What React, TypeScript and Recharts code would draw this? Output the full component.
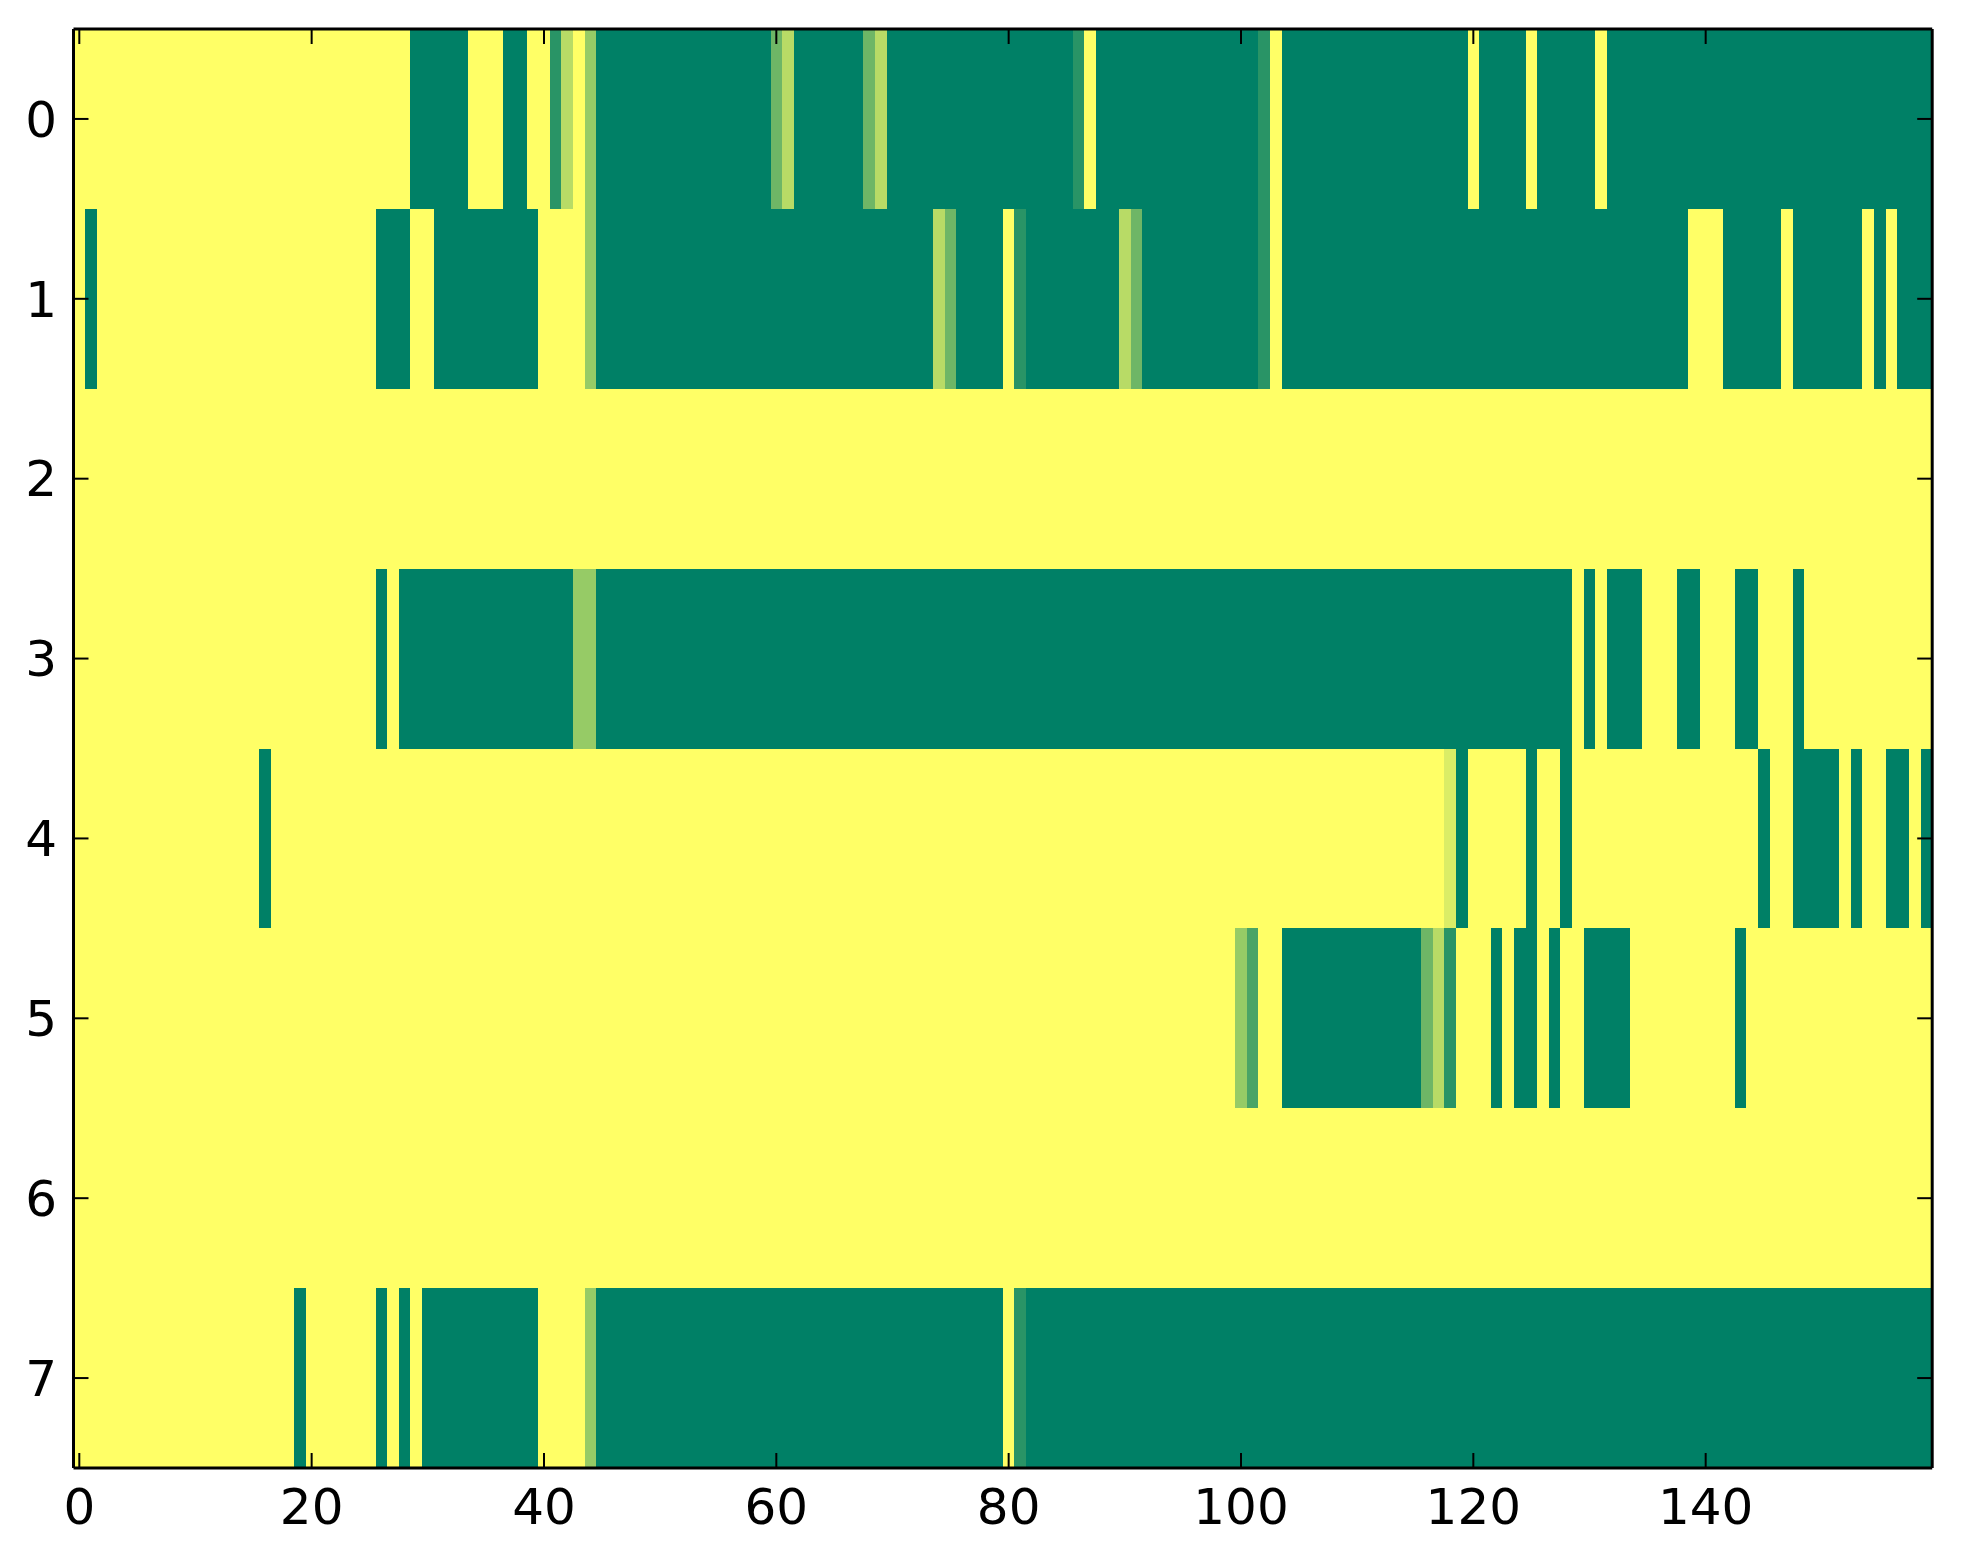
import React from "react";
import { ScatterChart, Scatter, XAxis, YAxis } from "recharts";

// one array per image row, 160 columns each (1 = yellow, 0 = green)
const ROW_0 = [
  1, 1, 1, 1, 1, 1, 1, 1, 1, 1, 1, 1, 1, 1, 1, 1, 1, 1, 1, 1,
  1, 1, 1, 1, 1, 1, 1, 1, 1, 0, 0, 0, 0, 0, 1, 1, 1, 0, 0, 1,
  1, 0.16, 0.72, 1, 0.59, 0, 0, 0, 0, 0, 0, 0, 0, 0, 0, 0, 0, 0, 0, 0,
  0.43, 0.72, 0, 0, 0, 0, 0, 0, 0.43, 0.72, 0, 0, 0, 0, 0, 0, 0, 0, 0, 0,
  0, 0, 0, 0, 0, 0, 0.16, 1, 0, 0, 0, 0, 0, 0, 0, 0, 0, 0, 0, 0,
  0, 0, 0.16, 1, 0, 0, 0, 0, 0, 0, 0, 0, 0, 0, 0, 0, 0, 0, 0, 0,
  1, 0, 0, 0, 0, 1, 0, 0, 0, 0, 0, 1, 0, 0, 0, 0, 0, 0, 0, 0,
  0, 0, 0, 0, 0, 0, 0, 0, 0, 0, 0, 0, 0, 0, 0, 0, 0, 0, 0, 0,
];
const ROW_1 = [
  1, 0, 1, 1, 1, 1, 1, 1, 1, 1, 1, 1, 1, 1, 1, 1, 1, 1, 1, 1,
  1, 1, 1, 1, 1, 1, 0, 0, 0, 1, 1, 0, 0, 0, 0, 0, 0, 0, 0, 0,
  1, 1, 1, 1, 0.59, 0, 0, 0, 0, 0, 0, 0, 0, 0, 0, 0, 0, 0, 0, 0,
  0, 0, 0, 0, 0, 0, 0, 0, 0, 0, 0, 0, 0, 0, 0.72, 0.43, 0, 0, 0, 0,
  1, 0.16, 0, 0, 0, 0, 0, 0, 0, 0, 0.72, 0.43, 0, 0, 0, 0, 0, 0, 0, 0,
  0, 0, 0.16, 1, 0, 0, 0, 0, 0, 0, 0, 0, 0, 0, 0, 0, 0, 0, 0, 0,
  0, 0, 0, 0, 0, 0, 0, 0, 0, 0, 0, 0, 0, 0, 0, 0, 0, 0, 0, 1,
  1, 1, 0, 0, 0, 0, 0, 1, 0, 0, 0, 0, 0, 0, 1, 0, 1, 0, 0, 0,
];
const ROW_2 = [
  1, 1, 1, 1, 1, 1, 1, 1, 1, 1, 1, 1, 1, 1, 1, 1, 1, 1, 1, 1,
  1, 1, 1, 1, 1, 1, 1, 1, 1, 1, 1, 1, 1, 1, 1, 1, 1, 1, 1, 1,
  1, 1, 1, 1, 1, 1, 1, 1, 1, 1, 1, 1, 1, 1, 1, 1, 1, 1, 1, 1,
  1, 1, 1, 1, 1, 1, 1, 1, 1, 1, 1, 1, 1, 1, 1, 1, 1, 1, 1, 1,
  1, 1, 1, 1, 1, 1, 1, 1, 1, 1, 1, 1, 1, 1, 1, 1, 1, 1, 1, 1,
  1, 1, 1, 1, 1, 1, 1, 1, 1, 1, 1, 1, 1, 1, 1, 1, 1, 1, 1, 1,
  1, 1, 1, 1, 1, 1, 1, 1, 1, 1, 1, 1, 1, 1, 1, 1, 1, 1, 1, 1,
  1, 1, 1, 1, 1, 1, 1, 1, 1, 1, 1, 1, 1, 1, 1, 1, 1, 1, 1, 1,
];
const ROW_3 = [
  1, 1, 1, 1, 1, 1, 1, 1, 1, 1, 1, 1, 1, 1, 1, 1, 1, 1, 1, 1,
  1, 1, 1, 1, 1, 1, 0, 1, 0, 0, 0, 0, 0, 0, 0, 0, 0, 0, 0, 0,
  0, 0, 0, 0.59, 0.59, 0, 0, 0, 0, 0, 0, 0, 0, 0, 0, 0, 0, 0, 0, 0,
  0, 0, 0, 0, 0, 0, 0, 0, 0, 0, 0, 0, 0, 0, 0, 0, 0, 0, 0, 0,
  0, 0, 0, 0, 0, 0, 0, 0, 0, 0, 0, 0, 0, 0, 0, 0, 0, 0, 0, 0,
  0, 0, 0, 0, 0, 0, 0, 0, 0, 0, 0, 0, 0, 0, 0, 0, 0, 0, 0, 0,
  0, 0, 0, 0, 0, 0, 0, 0, 0, 1, 0, 1, 0, 0, 0, 1, 1, 1, 0, 0,
  1, 1, 1, 0, 0, 1, 1, 1, 0, 1, 1, 1, 1, 1, 1, 1, 1, 1, 1, 1,
];
const ROW_4 = [
  1, 1, 1, 1, 1, 1, 1, 1, 1, 1, 1, 1, 1, 1, 1, 1, 0, 1, 1, 1,
  1, 1, 1, 1, 1, 1, 1, 1, 1, 1, 1, 1, 1, 1, 1, 1, 1, 1, 1, 1,
  1, 1, 1, 1, 1, 1, 1, 1, 1, 1, 1, 1, 1, 1, 1, 1, 1, 1, 1, 1,
  1, 1, 1, 1, 1, 1, 1, 1, 1, 1, 1, 1, 1, 1, 1, 1, 1, 1, 1, 1,
  1, 1, 1, 1, 1, 1, 1, 1, 1, 1, 1, 1, 1, 1, 1, 1, 1, 1, 1, 1,
  1, 1, 1, 1, 1, 1, 1, 1, 1, 1, 1, 1, 1, 1, 1, 1, 1, 1, 0.86, 0,
  1, 1, 1, 1, 1, 0, 1, 1, 0, 1, 1, 1, 1, 1, 1, 1, 1, 1, 1, 1,
  1, 1, 1, 1, 1, 0, 1, 1, 0, 0, 0, 0, 1, 0, 1, 1, 0, 0, 1, 0,
];
const ROW_5 = [
  1, 1, 1, 1, 1, 1, 1, 1, 1, 1, 1, 1, 1, 1, 1, 1, 1, 1, 1, 1,
  1, 1, 1, 1, 1, 1, 1, 1, 1, 1, 1, 1, 1, 1, 1, 1, 1, 1, 1, 1,
  1, 1, 1, 1, 1, 1, 1, 1, 1, 1, 1, 1, 1, 1, 1, 1, 1, 1, 1, 1,
  1, 1, 1, 1, 1, 1, 1, 1, 1, 1, 1, 1, 1, 1, 1, 1, 1, 1, 1, 1,
  1, 1, 1, 1, 1, 1, 1, 1, 1, 1, 1, 1, 1, 1, 1, 1, 1, 1, 1, 1,
  0.59, 0.29, 1, 1, 0, 0, 0, 0, 0, 0, 0, 0, 0, 0, 0, 0, 0.43, 0.72, 0.16, 1,
  1, 1, 0, 1, 0, 0, 1, 0, 1, 1, 0, 0, 0, 0, 1, 1, 1, 1, 1, 1,
  1, 1, 1, 0, 1, 1, 1, 1, 1, 1, 1, 1, 1, 1, 1, 1, 1, 1, 1, 1,
];
const ROW_6 = [
  1, 1, 1, 1, 1, 1, 1, 1, 1, 1, 1, 1, 1, 1, 1, 1, 1, 1, 1, 1,
  1, 1, 1, 1, 1, 1, 1, 1, 1, 1, 1, 1, 1, 1, 1, 1, 1, 1, 1, 1,
  1, 1, 1, 1, 1, 1, 1, 1, 1, 1, 1, 1, 1, 1, 1, 1, 1, 1, 1, 1,
  1, 1, 1, 1, 1, 1, 1, 1, 1, 1, 1, 1, 1, 1, 1, 1, 1, 1, 1, 1,
  1, 1, 1, 1, 1, 1, 1, 1, 1, 1, 1, 1, 1, 1, 1, 1, 1, 1, 1, 1,
  1, 1, 1, 1, 1, 1, 1, 1, 1, 1, 1, 1, 1, 1, 1, 1, 1, 1, 1, 1,
  1, 1, 1, 1, 1, 1, 1, 1, 1, 1, 1, 1, 1, 1, 1, 1, 1, 1, 1, 1,
  1, 1, 1, 1, 1, 1, 1, 1, 1, 1, 1, 1, 1, 1, 1, 1, 1, 1, 1, 1,
];
const ROW_7 = [
  1, 1, 1, 1, 1, 1, 1, 1, 1, 1, 1, 1, 1, 1, 1, 1, 1, 1, 1, 0,
  1, 1, 1, 1, 1, 1, 0, 1, 0, 1, 0, 0, 0, 0, 0, 0, 0, 0, 0, 0,
  1, 1, 1, 1, 0.59, 0, 0, 0, 0, 0, 0, 0, 0, 0, 0, 0, 0, 0, 0, 0,
  0, 0, 0, 0, 0, 0, 0, 0, 0, 0, 0, 0, 0, 0, 0, 0, 0, 0, 0, 0,
  1, 0.16, 0, 0, 0, 0, 0, 0, 0, 0, 0, 0, 0, 0, 0, 0, 0, 0, 0, 0,
  0, 0, 0, 0, 0, 0, 0, 0, 0, 0, 0, 0, 0, 0, 0, 0, 0, 0, 0, 0,
  0, 0, 0, 0, 0, 0, 0, 0, 0, 0, 0, 0, 0, 0, 0, 0, 0, 0, 0, 0,
  0, 0, 0, 0, 0, 0, 0, 0, 0, 0, 0, 0, 0, 0, 0, 0, 0, 0, 0, 0,
];

const ROWS = [ROW_0, ROW_1, ROW_2, ROW_3, ROW_4, ROW_5, ROW_6, ROW_7];

const X_TICKS = [0, 20, 40, 60, 80, 100, 120, 140];
const Y_TICKS = [0, 1, 2, 3, 4, 5, 6, 7];
const X_DOMAIN = [-0.5, 159.5];
const Y_DOMAIN = [-0.5, 7.5];

const CHART_W = 1950;
const CHART_H = 1540;
const MARGIN = { top: 21, right: 25.8, bottom: 0, left: 0 };
const Y_AXIS_W = 65.5;
const X_AXIS_H = 80;
const PLOT_W = CHART_W - MARGIN.left - MARGIN.right - Y_AXIS_W;
const PLOT_H = CHART_H - MARGIN.top - MARGIN.bottom - X_AXIS_H;
const CELL_W = PLOT_W / ROW_0.length;
const CELL_H = PLOT_H / ROWS.length;

// matplotlib "summer" colormap
function summer(v: number) {
  const r = Math.round(255 * v);
  const g = Math.round(255 * (0.5 + 0.5 * v));
  return `rgb(${r},${g},102)`;
}

const cells = ROWS.flatMap((row, r) =>
  row.map((value, c) => ({ col: c, row: r, value }))
);

const HeatCell = (props: any) => {
  const { cx, cy, payload } = props;
  if (cx == null || cy == null) return null;
  return (
    <rect
      x={cx - CELL_W / 2}
      y={cy - CELL_H / 2}
      width={CELL_W + 0.6}
      height={CELL_H + 0.6}
      fill={summer(payload.value)}
      shapeRendering="crispEdges"
    />
  );
};

// used by the axes layer so that its axes get the same data, but draws nothing
const NoShape = () => <g />;

const tickFont = { fill: "#000", fontSize: 50, fontFamily: "DejaVu Sans" };
const noLabel = { fill: "none", fontSize: 1 };
const frame = { stroke: "#000", strokeWidth: 3 };
const tickStroke = { stroke: "#000", strokeWidth: 2 };
const blank = () => "";

// bottom layer: the cells, with invisible axes that only reserve the same space
const HeatLayer = () => (
  <ScatterChart width={CHART_W} height={CHART_H} margin={MARGIN}>
    <XAxis
      dataKey="col"
      type="number"
      domain={X_DOMAIN}
      allowDataOverflow
      ticks={X_TICKS}
      height={X_AXIS_H}
      axisLine={false}
      tickLine={false}
      tick={false}
    />
    <YAxis
      dataKey="row"
      type="number"
      domain={Y_DOMAIN}
      allowDataOverflow
      reversed
      ticks={Y_TICKS}
      width={Y_AXIS_W}
      axisLine={false}
      tickLine={false}
      tick={false}
    />
    <Scatter data={cells} shape={HeatCell} isAnimationActive={false} />
  </ScatterChart>
);

// top layer: frame, inward ticks on all four sides, tick labels
const AxesLayer = () => (
  <ScatterChart width={CHART_W} height={CHART_H} margin={MARGIN}>
    <XAxis
      dataKey="col"
      type="number"
      domain={X_DOMAIN}
      allowDataOverflow
      ticks={X_TICKS}
      interval={0}
      height={X_AXIS_H}
      tickSize={-15}
      tickMargin={35}
      axisLine={frame}
      tickLine={tickStroke}
      tick={tickFont}
    />
    <YAxis
      dataKey="row"
      type="number"
      domain={Y_DOMAIN}
      allowDataOverflow
      reversed
      ticks={Y_TICKS}
      interval={0}
      width={Y_AXIS_W}
      tickSize={-15}
      tickMargin={31.5}
      axisLine={frame}
      tickLine={tickStroke}
      tick={tickFont}
    />
    <XAxis
      xAxisId="top"
      dataKey="col"
      orientation="top"
      type="number"
      domain={X_DOMAIN}
      allowDataOverflow
      ticks={X_TICKS}
      interval={0}
      height={1}
      mirror
      tickSize={15}
      axisLine={frame}
      tickLine={tickStroke}
      tick={noLabel}
      tickFormatter={blank}
    />
    <YAxis
      yAxisId="right"
      dataKey="row"
      orientation="right"
      type="number"
      domain={Y_DOMAIN}
      allowDataOverflow
      reversed
      ticks={Y_TICKS}
      interval={0}
      width={1}
      mirror
      tickSize={15}
      axisLine={frame}
      tickLine={tickStroke}
      tick={noLabel}
      tickFormatter={blank}
    />
    <Scatter data={cells} shape={NoShape} isAnimationActive={false} />
    <Scatter
      data={cells}
      xAxisId="top"
      yAxisId="right"
      shape={NoShape}
      isAnimationActive={false}
    />
  </ScatterChart>
);

const App: React.FC = () => {
  return (
    <div style={{ position: "relative", width: CHART_W, height: CHART_H }}>
      <HeatLayer />
      <div style={{ position: "absolute", left: 0, top: 0 }}>
        <AxesLayer />
      </div>
    </div>
  );
};

export default App;
